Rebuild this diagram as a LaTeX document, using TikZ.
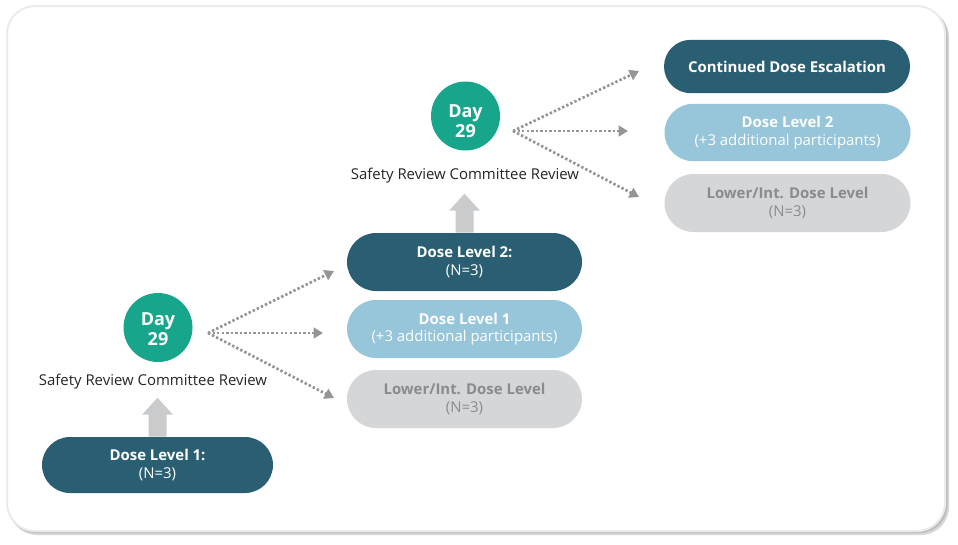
\documentclass[tikz,border=0pt]{standalone}
\usepackage{fontspec}
\setmainfont{Open Sans}
\usetikzlibrary{arrows.meta,shapes.misc}
\definecolor{darkpill}{HTML}{2A5E72}
\definecolor{bluepill}{HTML}{97C5DA}
\definecolor{graypill}{HTML}{D5D6D8}
\definecolor{graytext}{HTML}{8A8B8D}
\definecolor{dayteal}{HTML}{17A68B}
\definecolor{dotgray}{HTML}{959595}
\definecolor{blockgray}{HTML}{CACBCD}
\definecolor{cardedge}{HTML}{EBEBEB}
\definecolor{cardshadow}{HTML}{BDBDBD}
\newcommand{\daytext}[1]{\raisebox{-#1}[0pt][0pt]{\begin{tabular}{@{}c@{}}Day\\29\end{tabular}}}
\tikzset{
  pill/.style={rounded rectangle, inner sep=0pt, align=center,
    font=\fontsize{11.2}{13}\selectfont},
  darkp/.style={pill, fill=darkpill, text=white},
  bluep/.style={pill, fill=bluepill, text=white},
  grayp/.style={pill, fill=graypill, text=graytext},
  dayc/.style={circle, fill=dayteal, text=white, inner sep=0pt, minimum size=51.75pt,
    font=\fontsize{13.5}{15}\selectfont\bfseries},
  srclabel/.style={font=\fontsize{11.2}{12}\selectfont, text=black!85, inner sep=0pt},
  dotarrow/.style={draw=dotgray, line width=2pt, dash pattern=on 1.8pt off 1.6pt,
    -{Triangle[length=7pt,width=8pt,fill=dotgray]}, shorten >=0pt},
  blockarrow/.style={fill=blockgray, draw=none}
}
\begin{document}
\begin{tikzpicture}[x=0.75pt,y=-0.75pt]
\useasboundingbox (0,0) rectangle (958,544);
% card
\fill[cardshadow!60, rounded corners=21pt] (9,9) rectangle (949,535);
\fill[cardshadow, rounded corners=21pt] (8,8) rectangle (947.5,533);
\filldraw[fill=white, draw=cardedge, line width=1.5pt, rounded corners=21pt] (7,6) rectangle (945,531);

% left stage
\node[darkp, minimum width=173.25pt, minimum height=42pt] (dl1) at (157.5,465)
  {\bfseries Dose Level 1:\\(N=3)};
\node[dayc] (dA) at (158,327.5) {\daytext{6.7pt}};
\node[srclabel] (srA) at (153,382) {Safety Review Committee Review};

% middle stage
\node[darkp, minimum width=176.25pt, minimum height=43.5pt] (dl2) at (464.5,262)
  {\bfseries Dose Level 2:\\(N=3)};
\node[bluep, minimum width=176.25pt, minimum height=43.5pt] (dl1p) at (464.5,329)
  {\bfseries Dose Level 1\\(+3 additional participants)};
\node[grayp, minimum width=176.25pt, minimum height=43.5pt] (lowA) at (464.5,399)
  {\bfseries Lower/Int. Dose Level\\(N=3)};
\node[dayc] (dB) at (465.5,116) {\daytext{9.5pt}};
\node[srclabel] (srB) at (465,176) {Safety Review Committee Review};

% right stage
\node[darkp, minimum width=184.5pt, minimum height=40pt] (cde) at (787,66.5)
  {\bfseries Continued Dose Escalation};
\node[bluep, minimum width=184.5pt, minimum height=43pt] (dl2p) at (787.5,132.5)
  {\bfseries Dose Level 2\\(+3 additional participants)};
\node[grayp, minimum width=184.5pt, minimum height=43.5pt] (lowB) at (787.5,203)
  {\bfseries Lower/Int. Dose Level\\(N=3)};

% block arrows
\fill[blockarrow] (dl1.north) ++(-9,0) -- ++(0,-22) -- ++(-6.5,0) -- ++(15.5,-17)
  -- ++(15.5,17) -- ++(-6.5,0) -- ++(0,22) -- cycle;
\fill[blockarrow] (dl2.north) ++(-9,0) -- ++(0,-22) -- ++(-6.5,0) -- ++(15.5,-17)
  -- ++(15.5,17) -- ++(-6.5,0) -- ++(0,22) -- cycle;

% dotted arrows
\coordinate (sA) at (208,333);
\coordinate (tA1) at (334,271);
\coordinate (tA2) at (323,333);
\coordinate (tA3) at (334,398);
\draw[dotarrow] (sA) -- (tA1);
\draw[dotarrow] (sA) -- (tA2);
\draw[dotarrow] (sA) -- (tA3);
\coordinate (sB) at (513,131);
\coordinate (tB1) at (639,71);
\coordinate (tB2) at (628,131);
\coordinate (tB3) at (639,197);
\draw[dotarrow] (sB) -- (tB1);
\draw[dotarrow] (sB) -- (tB2);
\draw[dotarrow] (sB) -- (tB3);
\end{tikzpicture}
\end{document}
